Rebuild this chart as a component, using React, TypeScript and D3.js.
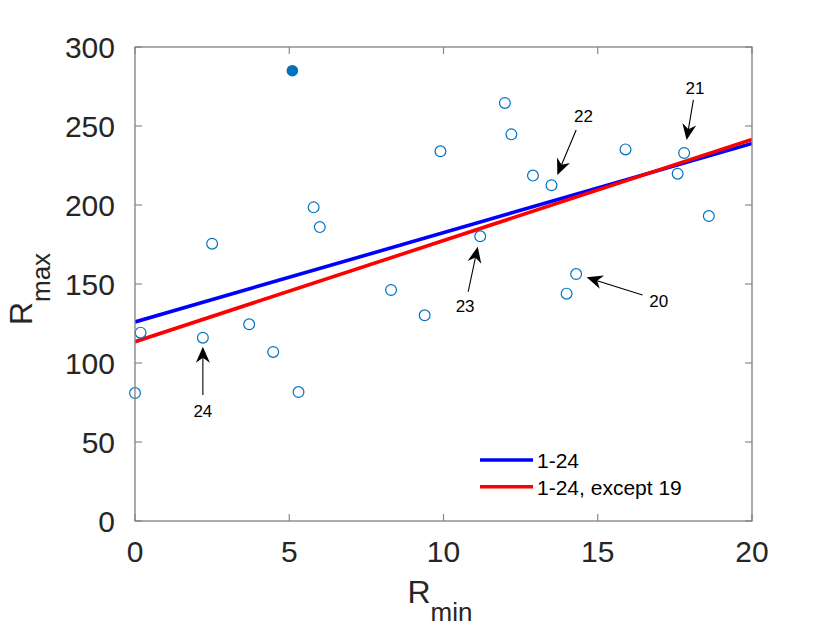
import React from "react";
import * as d3 from "d3";

// Open circles (Rmin, Rmax)
const rmin = [0.0, 0.18, 2.2, 2.5, 3.7, 4.48, 5.3, 5.79, 5.99, 8.3, 9.39, 9.9, 11.19, 11.99, 12.2, 12.9, 13.5, 13.99, 14.3, 15.9, 17.59, 17.8, 18.6];
const rmax = [81, 119.2, 116, 175.5, 124.5, 107, 81.6, 198.5, 186, 146.2, 130.2, 234, 180.2, 264.6, 244.7, 218.6, 212.5, 143.9, 156.3, 235.2, 219.8, 232.9, 193];
// Filled point (sample 19)
const outlierRmin = [5.1];
const outlierRmax = [285];

// Fit lines
const fitLabels = ["1-24", "1-24, except 19"];
const fitIntercepts = [126, 113.5];
const fitSlopes = [5.65, 6.4];
const fitColors = ["#0000ff", "#ff0000"];

// Ticks
const xTicks = [0, 5, 10, 15, 20];
const yTicks = [0, 50, 100, 150, 200, 250, 300];

// Annotations: label, text position, arrow tail, arrow tip (data coords)
const annLabels = ["20", "21", "22", "23", "24"];
const annTextX = [16.98, 18.15, 14.54, 10.7, 2.2];
const annTextY = [139.2, 274, 256.3, 136, 69.2];
const annTailX = [16.45, 18.1, 14.3, 10.8, 2.2];
const annTailY = [143, 266.5, 247.5, 145.1, 79.7];
const annTipX = [14.64, 17.88, 13.69, 11.11, 2.2];
const annTipY = [154.2, 241.1, 219, 173.6, 110.3];

const W = 830;
const H = 631;
const left = 135;
const right = 752;
const top = 47;
const bottom = 521;

export default function App() {
  const x = d3.scaleLinear().domain([0, 20]).range([left, right]);
  const y = d3.scaleLinear().domain([0, 300]).range([bottom, top]);
  const font = "'Liberation Sans', Arial, Helvetica, sans-serif";
  const axisColor = "#808080";
  const textColor = "#262626";
  const tickLen = 7;

  const line = d3
    .line<number>()
    .x((d) => x(d))
    .y((d) => d);

  const arrows = annLabels.map((lab, i) => {
    const tx = x(annTipX[i]);
    const ty = y(annTipY[i]);
    const sx = x(annTailX[i]);
    const sy = y(annTailY[i]);
    const dx = tx - sx;
    const dy = ty - sy;
    const len = Math.hypot(dx, dy);
    const ux = dx / len;
    const uy = dy / len;
    const nx = -uy;
    const ny = ux;
    const L = 16;
    const hw = 7;
    const notch = 5;
    const bx = tx - ux * L;
    const by = ty - uy * L;
    const mx = tx - ux * (L - notch);
    const my = ty - uy * (L - notch);
    const pts = [
      [tx, ty],
      [bx + nx * hw, by + ny * hw],
      [mx, my],
      [bx - nx * hw, by - ny * hw],
    ];
    return (
      <g key={lab}>
        <line x1={sx} y1={sy} x2={mx} y2={my} stroke="#000" strokeWidth={1.1} />
        <polygon points={pts.map((p) => p.join(",")).join(" ")} fill="#000" />
        <text
          x={x(annTextX[i])}
          y={y(annTextY[i])}
          fontSize={17}
          fontFamily={font}
          textAnchor="middle"
          dominantBaseline="central"
          fill="#000"
        >
          {lab}
        </text>
      </g>
    );
  });

  return (
    <svg
      width={W}
      height={H}
      style={{ position: "absolute", left: 0, top: 0, background: "#fff" }}
    >
      <rect x={0} y={0} width={W} height={H} fill="#fff" />
      {/* fit lines */}
      <defs>
        <clipPath id="plotclip">
          <rect x={left} y={top} width={right - left} height={bottom - top} />
        </clipPath>
      </defs>
      <g clipPath="url(#plotclip)">
        {fitLabels.map((lab, i) => {
          const xs = [0, 20];
          const d = d3
            .line<number>()
            .x((v) => x(v))
            .y((v) => y(fitIntercepts[i] + fitSlopes[i] * v))(xs);
          return (
            <path key={lab} d={d || ""} stroke={fitColors[i]} strokeWidth={3.6} fill="none" />
          );
        })}
      </g>
      {/* points */}
      {rmin.map((v, i) => (
        <circle
          key={i}
          cx={x(v)}
          cy={y(rmax[i])}
          r={5.4}
          fill="none"
          stroke="#0072bd"
          strokeWidth={1.2}
        />
      ))}
      {outlierRmin.map((v, i) => (
        <circle key={"o" + i} cx={x(v)} cy={y(outlierRmax[i])} r={5.8} fill="#0072bd" />
      ))}
      {/* arrows */}
      {arrows}
      {/* axes box */}
      <rect
        x={left}
        y={top}
        width={right - left}
        height={bottom - top}
        fill="none"
        stroke={axisColor}
        strokeWidth={1.3}
      />
      {xTicks.map((t) => (
        <g key={"xt" + t}>
          <line x1={x(t)} x2={x(t)} y1={bottom} y2={bottom - tickLen} stroke={axisColor} strokeWidth={1.1} />
          <line x1={x(t)} x2={x(t)} y1={top} y2={top + tickLen} stroke={axisColor} strokeWidth={1.1} />
          <text
            x={x(t)}
            y={bottom + 41}
            fontSize={30}
            fontFamily={font}
            textAnchor="middle"
            fill={textColor}
          >
            {t}
          </text>
        </g>
      ))}
      {yTicks.map((t) => (
        <g key={"yt" + t}>
          <line x1={left} x2={left + tickLen} y1={y(t)} y2={y(t)} stroke={axisColor} strokeWidth={1.1} />
          <line x1={right} x2={right - tickLen} y1={y(t)} y2={y(t)} stroke={axisColor} strokeWidth={1.1} />
          <text
            x={115}
            y={y(t) + 11}
            fontSize={30}
            fontFamily={font}
            textAnchor="end"
            fill={textColor}
          >
            {t}
          </text>
        </g>
      ))}
      {/* x label */}
      <text x={440} y={603} fontSize={32} fontFamily={font} textAnchor="middle" fill={textColor}>
        R
        <tspan fontSize={26} dy={18}>
          min
        </tspan>
      </text>
      {/* y label */}
      <text
        transform={`translate(32,${289}) rotate(-90)`}
        fontSize={32}
        fontFamily={font}
        textAnchor="middle"
        fill={textColor}
      >
        R
        <tspan fontSize={26} dy={18}>
          max
        </tspan>
      </text>
      {/* legend */}
      {fitLabels.map((lab, i) => {
        const ly = 460 + i * 26.7;
        return (
          <g key={"lg" + i}>
            <line x1={480} x2={533} y1={ly} y2={ly} stroke={fitColors[i]} strokeWidth={3.6} />
            <text
              x={537}
              y={ly + 8}
              fontSize={21}
              fontFamily={font}
              fill="#000"
            >
              {lab}
            </text>
          </g>
        );
      })}
    </svg>
  );
}
